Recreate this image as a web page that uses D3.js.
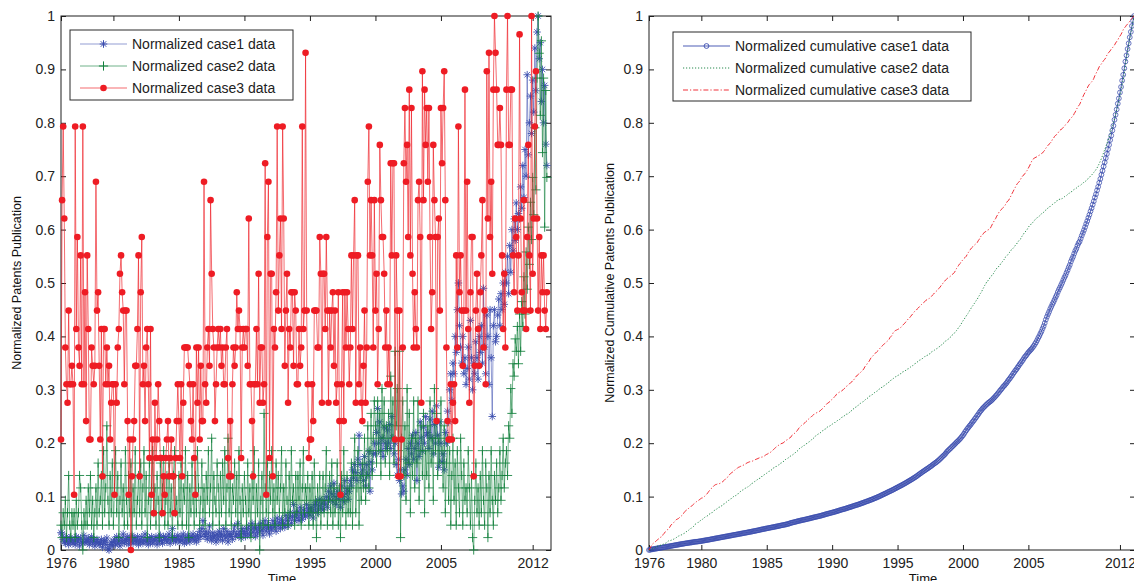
<!DOCTYPE html>
<html>
<head>
<meta charset="utf-8">
<script src="https://cdn.jsdelivr.net/npm/d3@7"></script>
<style>
  html, body { margin: 0; padding: 0; background: #fff; }
  svg { display: block; font-family: "Liberation Sans", Arial, Helvetica, sans-serif; }
</style>
</head>
<body>
<svg id="chart" width="1134" height="581"></svg>
<script>
// Monthly patent publication counts, January 1976 onwards (one row per year).
const startYear = 1976;

const case1Counts = [
  18,17,13,11,10,15,12,9,14,11,13,10,
  12,9,15,11,13,8,14,11,10,16,11,13,
  11,14,9,12,15,10,13,8,11,13,11,9,
  10,13,7,11,12,9,14,6,5,9,11,8,
  11,13,9,15,10,12,8,14,11,17,10,13,
  12,15,9,13,11,16,10,14,12,11,15,9,
  13,11,15,10,12,17,11,13,9,14,11,15,
  10,13,12,15,9,14,11,16,12,10,15,13,
  15,11,13,17,10,14,21,12,15,11,13,16,
  13,11,15,12,17,10,14,11,16,13,11,15,
  14,17,12,15,11,16,13,19,15,21,27,17,
  15,19,13,17,23,15,12,18,14,16,11,17,
  13,19,15,17,12,21,16,14,19,11,17,15,
  17,13,19,23,15,17,25,16,19,14,21,17,
  19,15,21,17,23,16,20,25,18,22,15,21,
  17,23,19,25,20,16,22,27,19,24,21,17,
  23,20,27,22,25,19,29,23,26,21,28,24,
  25,22,31,27,23,29,33,25,30,39,27,32,
  29,34,27,37,31,28,35,32,30,39,33,36,
  31,37,34,29,39,35,41,33,38,43,36,40,
  35,42,39,45,37,49,43,53,47,41,55,45,
  39,49,43,47,37,53,45,41,57,47,51,43,
  49,57,53,65,59,69,63,57,73,91,69,61,
  65,57,75,53,69,61,79,49,71,65,77,85,
  77,93,111,85,101,79,89,75,97,85,81,95,
  85,99,81,105,89,77,85,69,61,73,57,65,
  47,53,49,65,73,61,81,69,85,77,91,73,
  81,93,57,85,75,101,89,79,97,85,105,91,
  93,81,103,89,109,77,99,85,113,91,67,101,
  85,71,77,65,93,85,109,101,125,137,117,145,
  137,165,153,185,205,173,157,145,165,137,149,129,
  141,157,133,177,149,125,145,137,161,149,133,165,
  153,173,145,201,157,137,181,165,129,185,149,105,
  173,185,161,165,181,193,173,197,185,205,189,213,
  205,225,197,233,213,245,229,253,237,265,245,257,
  253,277,261,293,269,305,285,361,301,325,345,317,
  357,333,381,349,393,405,373,385,341,365,325,353,
  309,293
];

const case2Counts = [
  2,1,3,2,4,1,3,6,2,1,3,2,
  3,1,4,2,3,6,5,2,0,3,2,4,
  2,5,3,6,2,4,1,3,5,2,7,3,
  4,6,2,8,3,5,10,4,2,6,3,7,
  2,5,8,3,6,1,4,7,3,5,2,8,
  4,2,6,3,7,1,5,3,8,2,4,6,
  3,7,2,5,8,3,6,1,4,7,2,5,
  8,3,5,2,6,4,1,7,3,5,8,2,
  4,6,2,7,3,5,1,6,8,3,4,2,
  6,3,7,2,5,4,8,2,6,1,5,3,
  7,4,2,6,3,8,5,2,4,7,3,5,
  2,6,4,8,3,5,9,2,6,4,3,7,
  5,2,6,3,7,4,8,2,5,9,3,6,
  2,5,4,7,3,6,2,8,4,1,5,3,
  6,4,2,7,3,5,1,6,4,8,2,5,
  3,7,0,4,6,2,11,5,3,7,2,6,
  4,8,3,5,2,7,4,6,3,5,8,2,
  5,3,7,4,2,6,3,8,4,5,2,6,
  3,6,4,7,2,5,8,3,5,4,6,2,
  5,3,6,2,7,4,1,5,3,6,2,4,
  6,3,5,8,2,4,6,3,7,2,5,3,
  4,7,2,5,1,6,3,8,4,2,6,3,
  5,3,7,2,6,9,3,5,8,2,6,4,
  7,5,9,4,6,10,5,8,11,6,9,12,
  10,7,12,8,11,6,13,9,12,7,10,8,
  11,6,14,9,12,7,16,10,13,8,16,1,
  9,12,6,10,4,13,7,11,3,9,6,12,
  5,9,7,12,4,8,10,6,11,3,8,6,
  10,5,12,7,9,4,13,8,11,6,9,7,
  12,8,5,10,3,7,9,4,8,2,6,9,
  4,7,2,8,5,3,9,6,2,7,4,5,
  3,8,5,2,6,1,0,4,7,3,5,2,
  6,3,8,4,2,7,5,1,6,3,8,4,
  2,6,4,7,3,5,8,4,6,9,5,7,
  8,6,10,9,13,11,15,14,17,16,18,15,
  19,16,20,18,22,19,24,21,26,23,28,25,
  30,27,34,29,38,43,40,35,41,32,38,26,
  37,30
];

const case3Counts = [
  6,19,23,18,11,9,8,13,9,9,10,9,
  3,23,12,17,11,10,16,9,23,9,14,7,
  16,12,6,6,11,10,9,10,20,13,14,10,
  6,12,4,12,12,9,11,9,10,6,8,9,
  9,3,9,8,11,12,15,16,14,13,9,13,
  13,7,3,6,0,4,6,7,10,10,12,16,
  4,14,17,9,10,7,11,12,9,5,12,3,
  6,2,8,5,6,9,7,5,5,2,4,3,
  5,6,7,4,5,6,4,4,2,5,7,9,
  7,5,9,4,8,11,11,11,11,10,9,7,
  6,9,5,3,11,8,11,6,10,7,7,20,
  9,8,11,12,10,19,15,12,11,7,9,11,
  12,11,12,10,11,9,9,11,12,5,4,7,
  4,9,11,10,11,14,12,13,12,5,11,12,
  11,12,12,10,18,9,9,7,4,9,9,12,
  9,15,8,11,11,8,9,21,3,17,20,5,
  15,15,4,12,11,14,23,13,16,18,12,23,
  18,10,13,15,8,12,11,14,14,10,14,13,
  9,9,12,10,11,23,12,13,27,13,9,5,
  6,6,9,7,13,13,13,11,11,17,15,8,
  15,15,12,17,13,8,13,11,13,14,10,13,
  8,9,14,7,3,9,14,7,14,11,14,12,
  9,11,16,12,16,19,8,16,16,9,11,8,
  7,10,13,8,11,20,23,16,19,16,11,19,
  13,15,9,12,22,19,17,17,15,11,13,9,
  11,9,21,16,21,21,6,16,13,4,13,4,
  6,11,21,24,20,22,17,25,16,24,15,11,
  14,12,11,19,20,17,8,26,19,25,22,24,
  20,24,17,12,14,22,19,17,7,17,18,13,
  24,21,24,26,19,11,7,6,6,9,6,8,
  9,7,16,11,23,14,16,13,10,13,25,13,
  20,12,8,14,17,17,4,10,13,15,12,10,
  14,16,19,11,13,9,26,18,27,17,20,15,
  25,29,27,25,22,22,24,22,16,12,15,11,
  25,29,22,22,25,25,16,14,18,17,13,16,
  28,18,14,13,19,13,12,17,22,16,13,29,
  15,18,23,26,18,13,17,12,16,14,16,13,
  12,14
];

const yearTicks = [1976, 1980, 1985, 1990, 1995, 2000, 2005, 2012];
const valueTicks = [0, 0.1, 0.2, 0.3, 0.4, 0.5, 0.6, 0.7, 0.8, 0.9, 1];
const valueTickLabels = ["0", "0.1", "0.2", "0.3", "0.4", "0.5", "0.6", "0.7", "0.8", "0.9", "1"];

const rawLegend = ["Normalized case1 data", "Normalized case2 data", "Normalized case3 data"];
const cumLegend = ["Normalized cumulative case1 data", "Normalized cumulative case2 data", "Normalized cumulative case3 data"];

// ---------------------------------------------------------------------------
const BLUE = "#3a4cae", GREEN = "#12803c", RED = "#ee1c24", INK = "#1e1e1e";
const plotTop = 16, plotBottom = 550;

const svg = d3.select("#chart");
svg.append("rect").attr("width", 1134).attr("height", 581).attr("fill", "#fff");

const time = case1Counts.map((_, i) => startYear + i / 12);

function normalize(a) {
  const lo = d3.min(a), hi = d3.max(a);
  return a.map(v => (v - lo) / (hi - lo));
}
function normCumulative(a) {
  const c = Array.from(d3.cumsum(a));
  const lo = c[0], hi = c[c.length - 1];
  return c.map(v => (v - lo) / (hi - lo));
}

const y = d3.scaleLinear().domain([0, 1]).range([plotBottom, plotTop]);
const xRaw = d3.scaleLinear().domain([1976, 2013.4]).range([61, 551]);
const xCum = d3.scaleLinear().domain([1976, 2013.15]).range([649, 1135]);

const markers = {
  star: s => { const d = s * 0.72; return `M${-s},0H${s}M0,${-s}V${s}M${-d},${-d}L${d},${d}M${-d},${d}L${d},${-d}`; },
  plus: s => `M${-s},0H${s}M0,${-s}V${s}`
};

function drawAxes(g, x, yTitle, titleX, timeX) {
  const [a, b] = x.range();
  g.append("rect")
    .attr("x", a).attr("y", plotTop).attr("width", b - a).attr("height", plotBottom - plotTop)
    .attr("fill", "none").attr("stroke", INK).attr("stroke-width", 1);

  const axes = [
    g.append("g").attr("transform", `translate(0,${plotBottom})`)
      .call(d3.axisBottom(x).tickValues(yearTicks).tickFormat(d3.format("d")).tickSize(-5).tickPadding(8)),
    g.append("g").attr("transform", `translate(0,${plotTop})`)
      .call(d3.axisTop(x).tickValues(yearTicks).tickFormat("").tickSize(-5)),
    g.append("g").attr("transform", `translate(${a},0)`)
      .call(d3.axisLeft(y).tickValues(valueTicks).tickFormat((d, i) => valueTickLabels[i]).tickSize(-5).tickPadding(6)),
    g.append("g").attr("transform", `translate(${b},0)`)
      .call(d3.axisRight(y).tickValues(valueTicks).tickFormat("").tickSize(-5))
  ];
  axes.forEach(ax => {
    ax.select(".domain").remove();
    ax.attr("font-family", null).attr("font-size", null);
    ax.selectAll("line").attr("stroke", INK);
    ax.selectAll("text").attr("fill", "#222").style("font-size", "14px");
  });

  g.append("text")
    .attr("transform", `translate(${titleX},${(plotTop + plotBottom) / 2}) rotate(-90)`)
    .attr("text-anchor", "middle").attr("dy", "0.35em")
    .attr("fill", "#111").style("font-size", "12.5px")
    .text(yTitle);

  g.append("text")
    .attr("x", timeX).attr("y", 583).attr("text-anchor", "middle")
    .attr("fill", "#111").style("font-size", "13px")
    .text("Time");
}

function drawLegend(g, box, names, styles) {
  g.append("rect")
    .attr("x", box.x).attr("y", box.y).attr("width", box.w).attr("height", box.h)
    .attr("fill", "#fff").attr("stroke", "#2a2a2a").attr("stroke-width", 1);
  names.forEach((name, i) => {
    const cy = box.y + 14 + i * 22;
    const st = styles[i];
    const x1 = box.x + 10, x2 = box.x + 57, mx = (x1 + x2) / 2;
    g.append("line").attr("x1", x1).attr("x2", x2).attr("y1", cy).attr("y2", cy)
      .attr("stroke", st.color).attr("stroke-width", 1)
      .attr("stroke-opacity", st.lineOpacity)
      .attr("stroke-dasharray", st.dash || null);
    drawMarker(g, st, mx, cy);
    g.append("text").attr("x", box.x + 62).attr("y", cy).attr("dy", "0.36em")
      .attr("fill", "#222").style("font-size", "14px").text(name);
  });
}

function drawMarker(g, st, cx, cy) {
  if (st.marker === "dot") {
    g.append("circle").attr("cx", cx).attr("cy", cy).attr("r", 3.3).attr("fill", st.color);
  } else if (st.marker === "circle") {
    g.append("circle").attr("cx", cx).attr("cy", cy).attr("r", 2.4)
      .attr("fill", "none").attr("stroke", st.color).attr("stroke-width", 0.9);
  } else if (st.marker) {
    g.append("path").attr("transform", `translate(${cx},${cy})`).attr("d", markers[st.marker](st.size))
      .attr("fill", "none").attr("stroke", st.color).attr("stroke-width", 1);
  }
}

function drawSeries(g, x, values, st) {
  const line = d3.line().x((d, i) => x(time[i])).y(d => y(d));
  g.append("path").datum(values).attr("d", line)
    .attr("fill", "none").attr("stroke", st.color).attr("stroke-width", st.width || 1)
    .attr("stroke-opacity", st.lineOpacity)
    .attr("stroke-dasharray", st.dash || null);
  if (!st.marker) return;
  const mg = g.append("g");
  if (st.marker === "dot") {
    mg.selectAll("circle").data(values).join("circle")
      .attr("cx", (d, i) => x(time[i])).attr("cy", d => y(d)).attr("r", 3.3).attr("fill", st.color);
  } else if (st.marker === "circle") {
    mg.selectAll("circle").data(values).join("circle")
      .attr("cx", (d, i) => x(time[i])).attr("cy", d => y(d)).attr("r", 2.4)
      .attr("fill", "none").attr("stroke", st.color).attr("stroke-width", 0.9).attr("stroke-opacity", 0.85);
  } else {
    const p = markers[st.marker](st.size);
    mg.selectAll("path").data(values).join("path")
      .attr("transform", (d, i) => `translate(${x(time[i])},${y(d)})`).attr("d", p)
      .attr("fill", "none").attr("stroke", st.color).attr("stroke-width", 1).attr("stroke-opacity", 0.85);
  }
}

// Left panel: normalized monthly counts
const rawStyles = [
  { color: BLUE, marker: "star", size: 3.8, lineOpacity: 0.55 },
  { color: GREEN, marker: "plus", size: 4.6, lineOpacity: 0.6 },
  { color: RED, marker: "dot", lineOpacity: 0.65 }
];
const left = svg.append("g");
drawAxes(left, xRaw, "Normalized Patents Publication", 17, 282);
[case1Counts, case2Counts, case3Counts].forEach((c, k) => drawSeries(left, xRaw, normalize(c), rawStyles[k]));
drawLegend(left, { x: 70, y: 30, w: 223, h: 70 }, rawLegend, rawStyles);

// Right panel: normalized cumulative counts
const cumStyles = [
  { color: BLUE, marker: "circle", lineOpacity: 0.9 },
  { color: GREEN, dash: "1.2,1.8", lineOpacity: 0.9 },
  { color: RED, dash: "5,2,1.2,2", lineOpacity: 0.9 }
];
const right = svg.append("g");
drawAxes(right, xCum, "Normalized Cumulative Patents Publication", 610, 923);
[case1Counts, case2Counts, case3Counts].forEach((c, k) => drawSeries(right, xCum, normCumulative(c), cumStyles[k]));
drawLegend(right, { x: 673, y: 32, w: 298, h: 69 }, cumLegend, cumStyles);
</script>
</body>
</html>
